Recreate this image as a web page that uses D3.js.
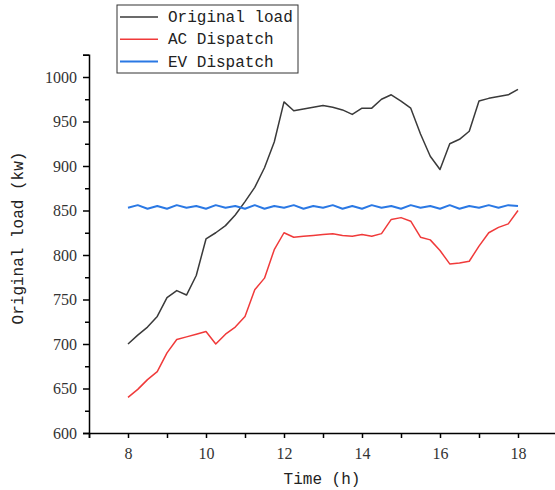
<!DOCTYPE html>
<html>
<head>
<meta charset="utf-8">
<script src="https://cdn.jsdelivr.net/npm/d3@7"></script>
<style>
    body { margin: 0; background: #fff; }
    #chart { width: 555px; height: 490px; }
</style>
</head>
<body>
<div id="chart"></div>
<script>
// time of day (h), 15 min steps
const times = [8, 8.25, 8.5, 8.75, 9, 9.25, 9.5, 9.75, 10, 10.25, 10.5, 10.75,
    11, 11.25, 11.5, 11.75, 12, 12.25, 12.5, 12.75, 13, 13.25, 13.5, 13.75,
    14, 14.25, 14.5, 14.75, 15, 15.25, 15.5, 15.75, 16, 16.25, 16.5, 16.75,
    17, 17.25, 17.5, 17.75, 18];

const originalLoad = [700, 710, 719, 731, 752, 760, 755, 777, 818, 825, 833, 845,
    860, 876, 898, 927, 972, 962, 964, 966, 968, 966, 963, 958,
    965, 965, 975, 980, 973, 965, 936, 911, 896, 925, 930, 939,
    973, 976, 978, 980, 986];

const acDispatch = [640, 649, 660, 669, 690, 705, 708, 711, 714, 700, 711, 719,
    731, 761, 774, 806, 825, 820, 821, 822, 823, 824, 822, 821,
    823, 821, 824, 840, 842, 838, 820, 817, 805, 790, 791, 793,
    810, 825, 831, 835, 850];

const evDispatch = [853, 856, 852, 855, 852, 856, 853, 855, 852, 856, 853, 855,
    852, 856, 852, 855, 853, 856, 852, 855, 853, 856, 852, 855,
    852, 856, 853, 855, 852, 856, 853, 855, 852, 856, 852, 855,
    853, 856, 853, 856, 855];

const seriesNames = ["Original load", "AC Dispatch", "EV Dispatch"];
const seriesColors = ["#3a3a3a", "#f03a3a", "#2a78e4"];

const xTicks = [7, 8, 9, 10, 11, 12, 13, 14, 15, 16, 17, 18, 19];
const xLabels = [8, 10, 12, 14, 16, 18];
const yTicks = [600, 625, 650, 675, 700, 725, 750, 775, 800, 825, 850, 875,
    900, 925, 950, 975, 1000, 1025];
const yLabels = [600, 650, 700, 750, 800, 850, 900, 950, 1000];

const width = 555;
const height = 490;
const margin = { top: 55, right: 0, bottom: 57, left: 89 };

const svg = d3.create("svg")
    .attr("width", width)
    .attr("height", height)
    .attr("viewBox", [0, 0, width, height]);

svg.append("rect")
    .attr("width", width)
    .attr("height", height)
    .attr("fill", "#fff");

const x = d3.scaleLinear()
    .domain([7, 19])
    .range([margin.left, margin.left + 12 * 39]);

const y = d3.scaleLinear()
    .domain([600, 1025])
    .range([height - margin.bottom, height - margin.bottom - 425 * 0.89]);

const tickFont = "'Liberation Serif', 'Times New Roman', serif";
const monoFont = "'Liberation Mono', 'DejaVu Sans Mono', monospace";

// lignes
const series = [originalLoad, acDispatch, evDispatch];
const line = d3.line()
    .x((d, i) => x(times[i]))
    .y(d => y(d));

series.forEach((values, k) => {
    svg.append("path")
        .datum(values)
        .attr("fill", "none")
        .attr("stroke", seriesColors[k])
        .attr("stroke-width", k === 2 ? 2 : 1.5)
        .attr("stroke-linejoin", "round")
        .attr("d", line);
});

// axe x
svg.append("g")
    .attr("transform", `translate(0,${y(600)})`)
    .call(d3.axisBottom(x)
        .tickValues(xTicks)
        .tickSize(5)
        .tickPadding(10)
        .tickFormat(d => xLabels.includes(d) ? d : ""))
    .call(g => g.select(".domain").attr("stroke", "#000").attr("stroke-width", 1.5))
    .call(g => g.selectAll(".tick line").attr("stroke", "#000").attr("stroke-width", 1.5))
    .call(g => g.selectAll(".tick text")
        .attr("fill", "#333")
        .style("font-family", tickFont)
        .style("font-size", "16px"));

// axe y
svg.append("g")
    .attr("transform", `translate(${margin.left},0)`)
    .call(d3.axisLeft(y)
        .tickValues(yTicks)
        .tickSize(6)
        .tickPadding(6)
        .tickFormat(d => yLabels.includes(d) ? d : ""))
    .call(g => g.select(".domain").attr("stroke", "#000").attr("stroke-width", 1.5))
    .call(g => g.selectAll(".tick line")
        .attr("stroke", "#000")
        .attr("stroke-width", 1.5)
        .attr("x2", d => yLabels.includes(d) || d === 1025 ? -6 : -4))
    .call(g => g.selectAll(".tick text")
        .attr("fill", "#333")
        .style("font-family", tickFont)
        .style("font-size", "16px"));

// titres des axes
svg.append("text")
    .attr("x", 322)
    .attr("y", 484)
    .attr("text-anchor", "middle")
    .style("font-family", monoFont)
    .style("font-size", "16px")
    .attr("fill", "#222")
    .text("Time (h)");

svg.append("text")
    .attr("transform", "translate(23,238) rotate(-90)")
    .attr("text-anchor", "middle")
    .style("font-family", monoFont)
    .style("font-size", "16px")
    .attr("fill", "#222")
    .text("Original load (kw)");

// légende
const legend = svg.append("g");
legend.append("rect")
    .attr("x", 117)
    .attr("y", 5)
    .attr("width", 181)
    .attr("height", 68)
    .attr("fill", "#fff")
    .attr("stroke", "#333")
    .attr("stroke-width", 1);

seriesNames.forEach((name, i) => {
    const cy = 17 + i * 22.3;
    legend.append("line")
        .attr("x1", 120)
        .attr("x2", 158)
        .attr("y1", cy)
        .attr("y2", cy)
        .attr("stroke", seriesColors[i])
        .attr("stroke-width", i === 2 ? 2 : 1.5);
    legend.append("text")
        .attr("x", 168)
        .attr("y", cy + 5)
        .style("font-family", monoFont)
        .style("font-size", "16px")
        .attr("fill", "#222")
        .text(name);
});

document.getElementById("chart").appendChild(svg.node());
</script>
</body>
</html>
